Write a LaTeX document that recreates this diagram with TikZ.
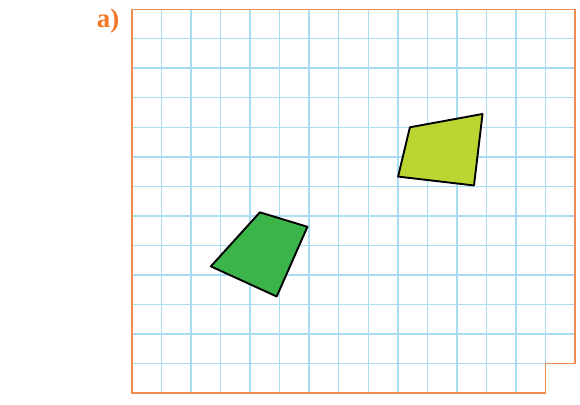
\documentclass[tikz,border=0pt]{standalone}
\usepackage{fontspec}
\setmainfont{Liberation Serif}
\definecolor{gridblue}{RGB}{168,221,242}
\definecolor{frameorange}{RGB}{240,140,80}
\definecolor{labelorange}{RGB}{242,120,40}
\definecolor{limegreen}{RGB}{188,214,49}
\definecolor{leafgreen}{RGB}{59,181,74}
\tikzset{
gridline/.style={gridblue, line width=0.85pt},
quad/.style={draw=black, line width=1.1pt, line join=round}
}
\begin{document}
\begin{tikzpicture}[x=0.6cm,y=0.6cm]
\useasboundingbox (-4.47,-0.373) rectangle (15.17,13.31);
\foreach \x in {1,...,14}{
\draw [gridline] (\x,0) -- (\x,13);
}
\foreach \y in {1,...,12}{
\draw [gridline] (0,\y) -- (15,\y);
}
\draw [frameorange, line width=0.7pt] (0,0) -- (0,13) -- (15,13) -- (15,1) -- (14,1) -- (14,0) -- cycle;

\node [anchor=base west, text=labelorange, font=\fontsize{15.5}{17}\selectfont\bfseries, inner sep=0pt] (lbl) at (-1.2,12.39) {a)};

%\draw [fill = limegreen] (9,7) -- (12,9) -- (12,7) -- cycle;
\draw [quad, fill = limegreen] (9.41,9.0) -- (11.87,9.45) -- (11.58,7.03) -- (9.01,7.33) -- cycle;
\draw [quad, fill = leafgreen] (4.33,6.12) -- (5.94,5.63) -- (4.90,3.27) -- (2.67,4.29) -- cycle;
\end{tikzpicture}
\end{document}
